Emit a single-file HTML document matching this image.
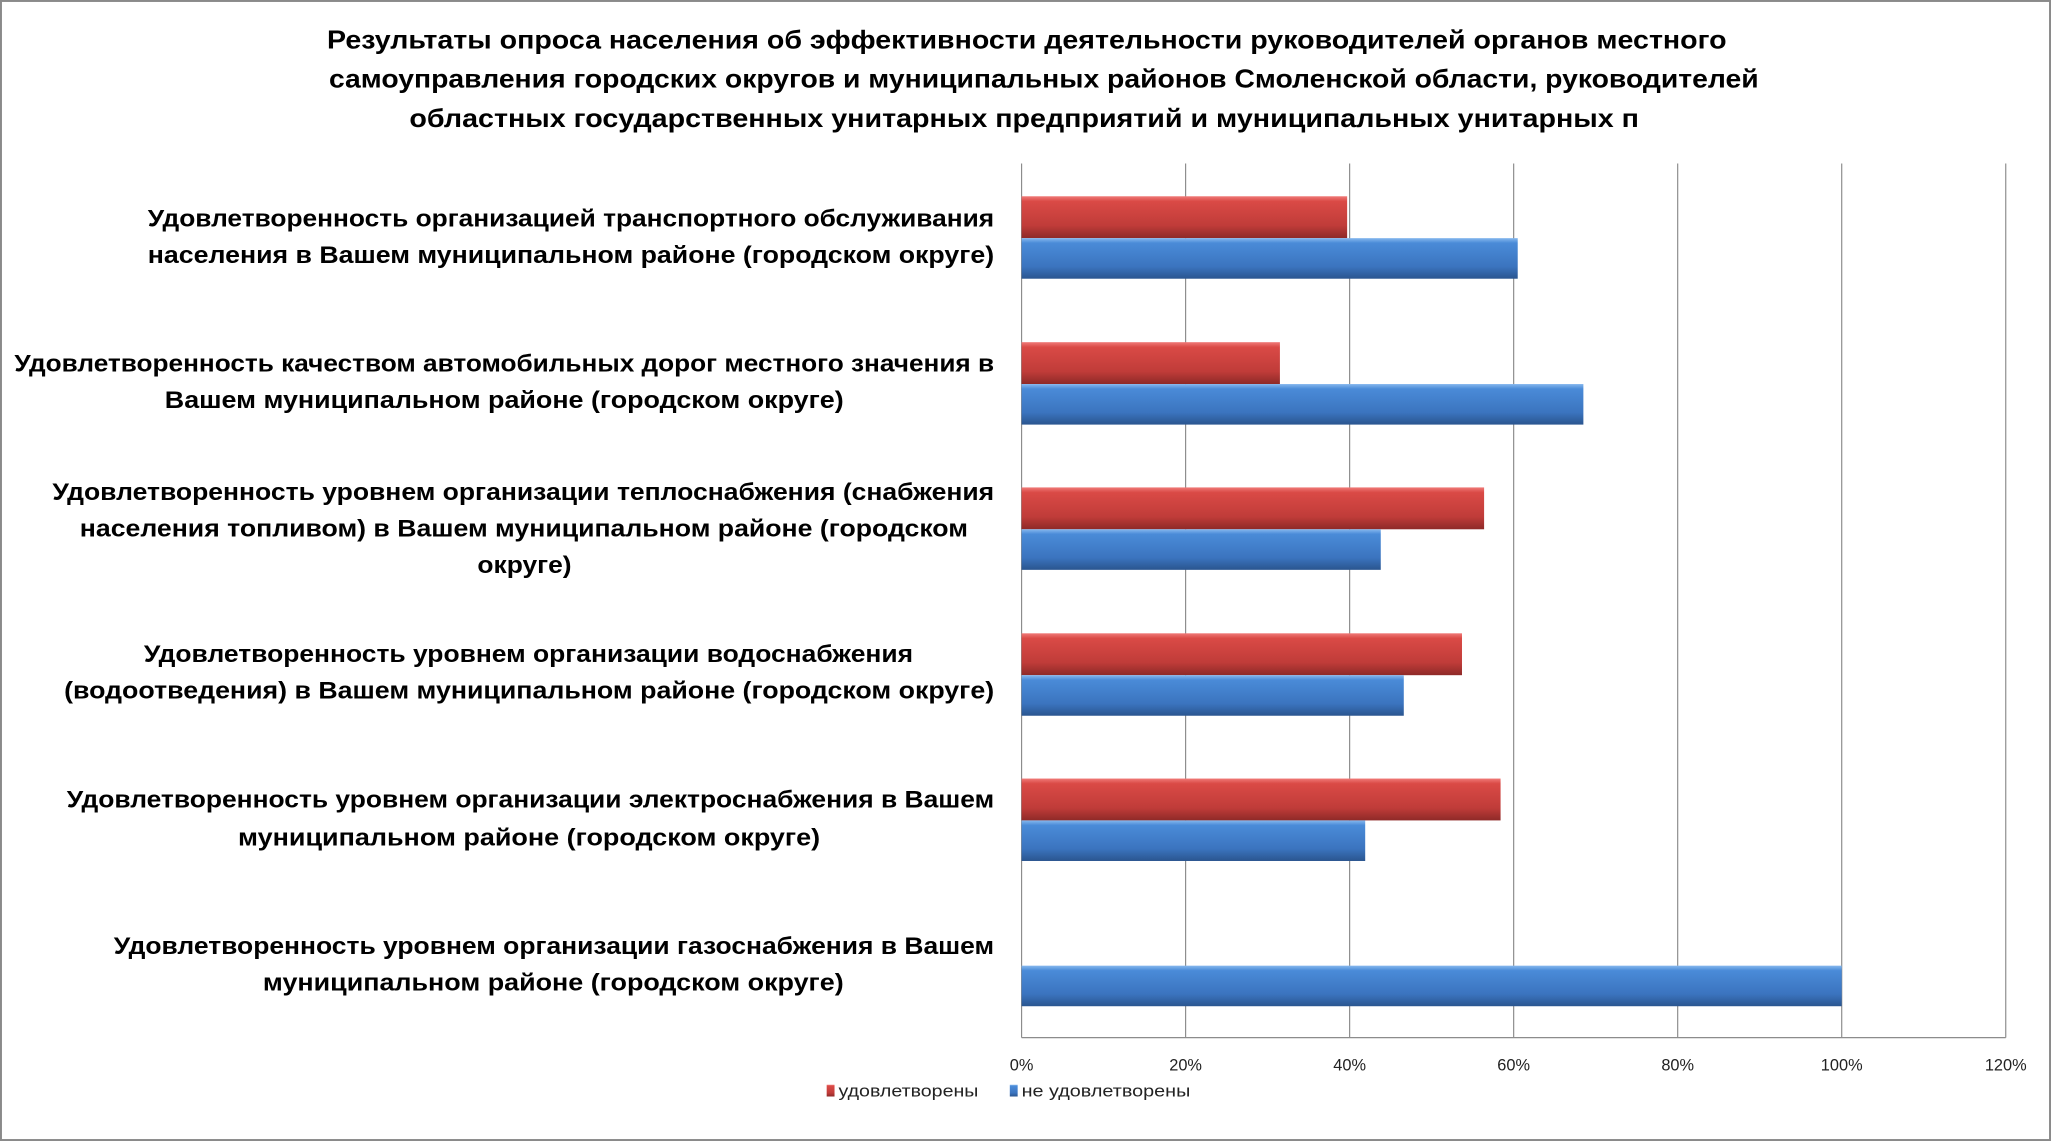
<!DOCTYPE html>
<html><head><meta charset="utf-8"><style>
html,body{margin:0;padding:0;background:#fff;}
svg{display:block;}
text{font-family:"Liberation Sans","DejaVu Sans",sans-serif;}
.t{font-weight:bold;font-size:20px;fill:#000;}
.c{font-weight:bold;font-size:18.5px;fill:#000;}
.k{font-size:12.5px;fill:#222;}
</style></head><body>
<svg width="2051" height="1141" viewBox="0 0 1568 872" preserveAspectRatio="none" xmlns="http://www.w3.org/2000/svg">
<defs>
<linearGradient id="r" x1="0" y1="0" x2="0" y2="1">
<stop offset="0" stop-color="#f07a78"/><stop offset="0.12" stop-color="#da4a46"/><stop offset="0.7" stop-color="#c03c39"/><stop offset="1" stop-color="#8e2a28"/></linearGradient>
<linearGradient id="b" x1="0" y1="0" x2="0" y2="1">
<stop offset="0" stop-color="#86b8ee"/><stop offset="0.12" stop-color="#4a8bd8"/><stop offset="0.7" stop-color="#3b74bf"/><stop offset="1" stop-color="#2a558f"/></linearGradient>
</defs>
<rect x="0.75" y="0.75" width="1566.5" height="870.5" fill="#fff" stroke="#8a8a8a" stroke-width="1.5"/>
<text class="t" x="785" y="37" text-anchor="middle" textLength="1070" lengthAdjust="spacingAndGlyphs">Результаты опроса населения об эффективности деятельности руководителей органов местного</text>
<text class="t" x="798" y="67" text-anchor="middle" textLength="1093" lengthAdjust="spacingAndGlyphs">самоуправления городских округов и муниципальных районов Смоленской области, руководителей</text>
<text class="t" x="783" y="97" text-anchor="middle" textLength="940" lengthAdjust="spacingAndGlyphs">областных государственных унитарных предприятий и муниципальных унитарных п</text>
<g stroke="#8c8c8c" stroke-width="0.9">
<line x1="781" y1="125" x2="781" y2="793"/>
<line x1="906.4" y1="125" x2="906.4" y2="793"/>
<line x1="1031.8" y1="125" x2="1031.8" y2="793"/>
<line x1="1157.2" y1="125" x2="1157.2" y2="793"/>
<line x1="1282.6" y1="125" x2="1282.6" y2="793"/>
<line x1="1408" y1="125" x2="1408" y2="793"/>
<line x1="1533.4" y1="125" x2="1533.4" y2="793"/>
<line x1="781" y1="793" x2="1533.4" y2="793"/>
</g>
<g>
<rect x="781" y="150" width="248.9" height="32" fill="url(#r)"/>
<rect x="781" y="182" width="379.3" height="31" fill="url(#b)"/>
<rect x="781" y="261.5" width="197.5" height="32" fill="url(#r)"/>
<rect x="781" y="293.5" width="429.5" height="31" fill="url(#b)"/>
<rect x="781" y="372.5" width="353.6" height="32" fill="url(#r)"/>
<rect x="781" y="404.5" width="274.6" height="31" fill="url(#b)"/>
<rect x="781" y="484" width="336.7" height="32" fill="url(#r)"/>
<rect x="781" y="516" width="292.2" height="31" fill="url(#b)"/>
<rect x="781" y="595" width="366.2" height="32" fill="url(#r)"/>
<rect x="781" y="627" width="262.7" height="31" fill="url(#b)"/>
<rect x="781" y="738" width="627" height="31" fill="url(#b)"/>
</g>
<g class="c" text-anchor="middle">
<text x="436.5" y="173" textLength="647" lengthAdjust="spacingAndGlyphs">Удовлетворенность организацией транспортного обслуживания</text>
<text x="436.5" y="201" textLength="647" lengthAdjust="spacingAndGlyphs">населения в Вашем муниципальном районе (городском округе)</text>
<text x="385.5" y="284" textLength="749" lengthAdjust="spacingAndGlyphs">Удовлетворенность качеством автомобильных дорог местного значения в</text>
<text x="385.5" y="312" textLength="519" lengthAdjust="spacingAndGlyphs">Вашем муниципальном районе (городском округе)</text>
<text x="400" y="382" textLength="720" lengthAdjust="spacingAndGlyphs">Удовлетворенность уровнем организации теплоснабжения (снабжения</text>
<text x="400.5" y="410" textLength="679" lengthAdjust="spacingAndGlyphs">населения топливом) в Вашем муниципальном районе (городском</text>
<text x="401" y="438" textLength="72" lengthAdjust="spacingAndGlyphs">округе)</text>
<text x="404" y="506" textLength="588" lengthAdjust="spacingAndGlyphs">Удовлетворенность уровнем организации водоснабжения</text>
<text x="404.5" y="534" textLength="711" lengthAdjust="spacingAndGlyphs">(водоотведения) в Вашем муниципальном районе (городском округе)</text>
<text x="405.5" y="617" textLength="709" lengthAdjust="spacingAndGlyphs">Удовлетворенность уровнем организации электроснабжения в Вашем</text>
<text x="404.5" y="646" textLength="445" lengthAdjust="spacingAndGlyphs">муниципальном районе (городском округе)</text>
<text x="423.5" y="729" textLength="673" lengthAdjust="spacingAndGlyphs">Удовлетворенность уровнем организации газоснабжения в Вашем</text>
<text x="423" y="757" textLength="444" lengthAdjust="spacingAndGlyphs">муниципальном районе (городском округе)</text>
</g>
<g class="k" text-anchor="middle">
<text x="781" y="818">0%</text>
<text x="906.4" y="818">20%</text>
<text x="1031.8" y="818">40%</text>
<text x="1157.2" y="818">60%</text>
<text x="1282.6" y="818">80%</text>
<text x="1408" y="818">100%</text>
<text x="1533.4" y="818">120%</text>
</g>
<rect x="632" y="829" width="6" height="9" fill="url(#r)"/>
<text class="k" x="641" y="838" textLength="107" lengthAdjust="spacingAndGlyphs">удовлетворены</text>
<rect x="772" y="829" width="6" height="9" fill="url(#b)"/>
<text class="k" x="781" y="838" textLength="129" lengthAdjust="spacingAndGlyphs">не удовлетворены</text>
</svg>
</body></html>
